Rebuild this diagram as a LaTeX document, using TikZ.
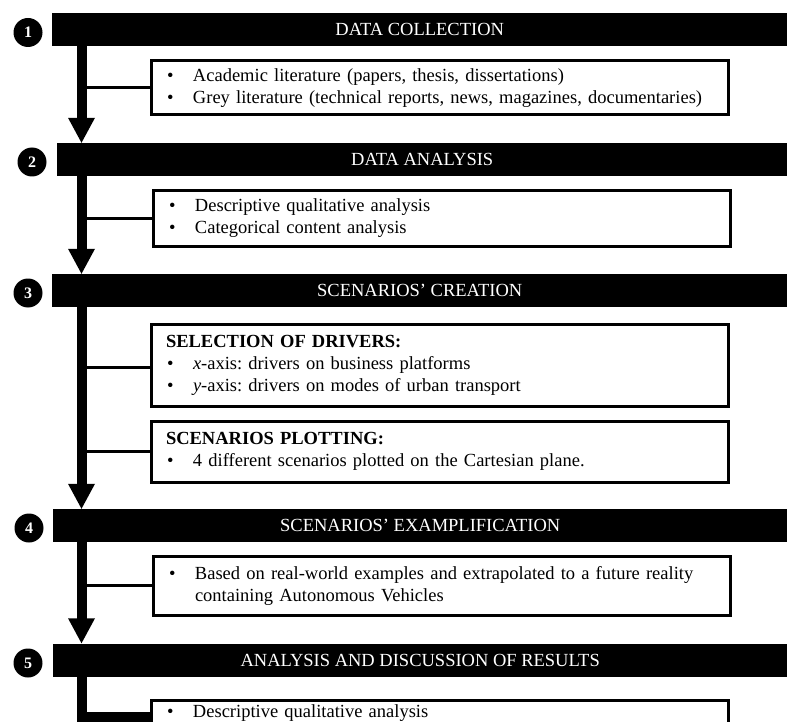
\documentclass[tikz,border=0pt]{standalone}
\usepackage{fontspec}
\setmainfont{Liberation Serif}
\usetikzlibrary{calc}
\frenchspacing
% one bulleted line with a hanging text column
\newcommand\pointline[1]{\makebox[27pt][l]{\hspace{1pt}\textbullet}#1}
\begin{document}
\begin{tikzpicture}[x=1pt,y=-1pt,
  every node/.style={font=\fontsize{18.5}{22}\selectfont},
  bar/.style={fill=black, text=white, minimum height=33pt, inner sep=0pt, anchor=west},
  num/.style={circle, fill=black, text=white, minimum size=29pt, inner sep=0pt,
    font=\fontsize{16}{16}\selectfont\bfseries},
  infobox/.style={draw=black, line width=3pt, anchor=north west, minimum width=577pt,
    text width=547pt, inner xsep=15pt, align=left, fill=white},
  shaft/.style={line width=10pt},
  link/.style={line width=3pt},
]
\useasboundingbox (0,0) rectangle (787,722);
\clip (0,0) rectangle (787,722);

% stage bars
\node[bar, minimum width=735pt] (b1) at (52,29.5)  {DATA COLLECTION};
\node[bar, minimum width=730pt] (b2) at (57,159.5) {DATA ANALYSIS};
\node[bar, minimum width=735pt] (b3) at (52,290.5) {SCENARIOS’ CREATION};
\node[bar, minimum width=734pt] (b4) at (53,525.5) {SCENARIOS’ EXAMPLIFICATION};
\node[bar, minimum width=734pt] (b5) at (53,660)   {ANALYSIS AND DISCUSSION OF RESULTS};

% stage numbers
\node[num] (n1) at (28,32.5) {1};
\node[num] (n2) at (32,162)  {2};
\node[num] (n3) at (28,293)  {3};
\node[num] (n4) at (29,528)  {4};
\node[num] (n5) at (28,663)  {5};

% detail boxes
\node[infobox, minimum height=54pt] (d1) at (149.5,59.5) {%
  \pointline{Academic literature (papers, thesis, dissertations)}\\
  \pointline{Grey literature (technical reports, news, magazines, documentaries)}};
\node[infobox, minimum height=55pt] (d2) at (151.5,189.5) {%
  \pointline{Descriptive qualitative analysis}\\
  \pointline{Categorical content analysis}};
\node[infobox, minimum height=82pt] (d3a) at (149.5,322.5) {%
  {\bfseries SELECTION OF DRIVERS:}\\
  \pointline{\textit{x}-axis: drivers on business platforms}\\
  \pointline{\textit{y}-axis: drivers on modes of urban transport}};
\node[infobox, minimum height=61pt] (d3b) at (149.5,419.5) {%
  {\bfseries SCENARIOS PLOTTING:}\\
  \pointline{4 different scenarios plotted on the Cartesian plane.}};
\node[infobox, minimum height=59pt] (d4) at (151.5,554.5) {%
  \pointline{Based on real-world examples and extrapolated to a future reality}\\
  \hspace*{27pt}containing Autonomous Vehicles};
\node[infobox, inner ysep=5pt, text depth=40pt] (d5) at (149.5,698.5) {%
  \pointline{Descriptive qualitative analysis}};

% main flow line
\coordinate (ax) at (81.5,0);
\foreach \a/\b in {b1/b2, b2/b3, b3/b4, b4/b5} {
  \draw[shaft] (\a.south -| ax) -- ($(\b.north -| ax)+(0,-24)$);
  \fill ($(\b.north -| ax)$) -- ++(-13.5,-25) -- ++(27,0) -- cycle;
}
\draw[shaft] (b5.south -| ax) |- ([yshift=-18.5pt]d5.north west);

% branches to the detail boxes
\foreach \d in {d1, d2, d3b, d4} {
  \draw[link] (ax |- \d.west) -- (\d.west);
}
\draw[link] (ax |- 0,367) -- (d3a.west |- 0,367);
\end{tikzpicture}
\end{document}
